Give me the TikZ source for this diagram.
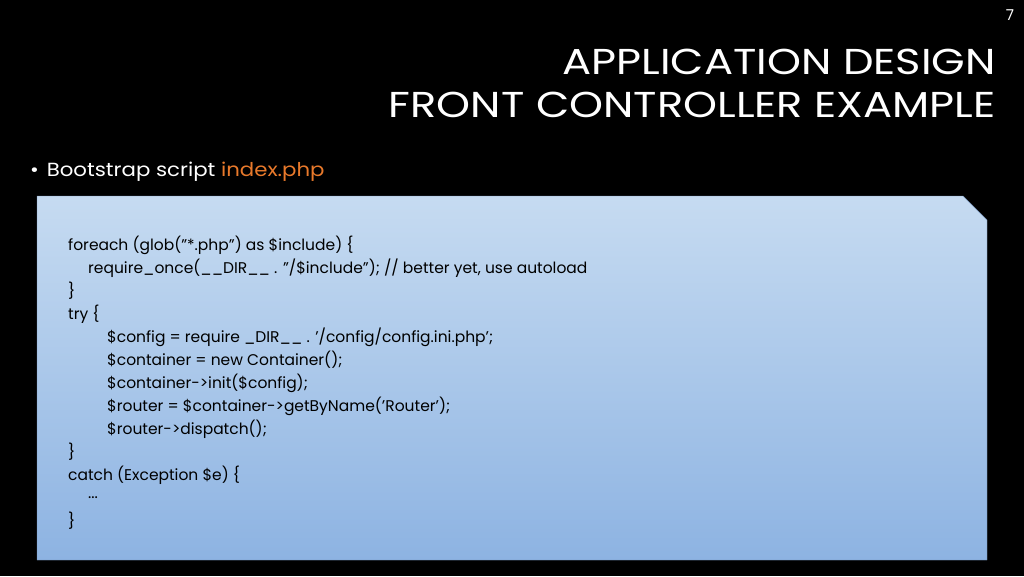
\documentclass[tikz,border=0pt]{standalone}
\usepackage{fontspec}
\setmainfont{Poppins}
\definecolor{boxtop}{HTML}{C6DBF1}
\definecolor{boxbot}{HTML}{8DB3E2}
\definecolor{orng}{HTML}{E8792B}
\begin{document}
\begin{tikzpicture}[x=1pt,y=-1pt,
  code/.style={anchor=west,inner sep=0pt,font=\fontsize{15.5}{18}\selectfont,text=black},
  title/.style={anchor=east,inner sep=0pt,text=white,font=\fontsize{36}{40}\selectfont,xscale=1.2,transform shape}]
\fill[black] (0,0) rectangle (1024,576);
\useasboundingbox (0,0) rectangle (1024,576);
\node[anchor=center,text=white,font=\fontsize{15}{18}\selectfont] (pg) at (1010,15) {7};
\node[title] (t1) at (996,62) {APPLICATION DESIGN};
\node[title] (t2) at (996,105) {FRONT CONTROLLER EXAMPLE};
\node[anchor=west,inner sep=0pt,text=white,font=\fontsize{19}{22}\selectfont,xscale=1.12,transform shape] (b) at (30,172) {•\hspace{7pt}Bootstrap script \textcolor{orng}{index.php}};
\shade[top color=boxtop,bottom color=boxbot,draw=boxbot!80!black,line width=0.4pt]
  (37,196) -- (963,196) -- (987,220) -- (987,560) -- (37,560) -- cycle;
\node[code] (l1) at (68,245) {foreach (glob("*.php") as \$include) \{};
\node[code] (l2) at (88,268) {require\_once(\_\_DIR\_\_ . "/\$include"); // better yet, use autoload};
\node[code] (l3) at (68,291) {\}};
\node[code] (l4) at (68,314) {try \{};
\node[code] (l5) at (107,337) {\$config = require \_DIR\_\_ . '/config/config.ini.php';};
\node[code] (l6) at (107,360) {\$container = new Container();};
\node[code] (l7) at (107,383) {\$container->init(\$config);};
\node[code] (l8) at (107,406) {\$router = \$container->getByName('Router');};
\node[code] (l9) at (107,429) {\$router->dispatch();};
\node[code] (l10) at (68,452) {\}};
\node[code] (l11) at (68,475) {catch (Exception \$e) \{};
\node[code] (l12) at (88,498) {...};
\node[code] (l13) at (68,521) {\}};
\end{tikzpicture}
\end{document}
